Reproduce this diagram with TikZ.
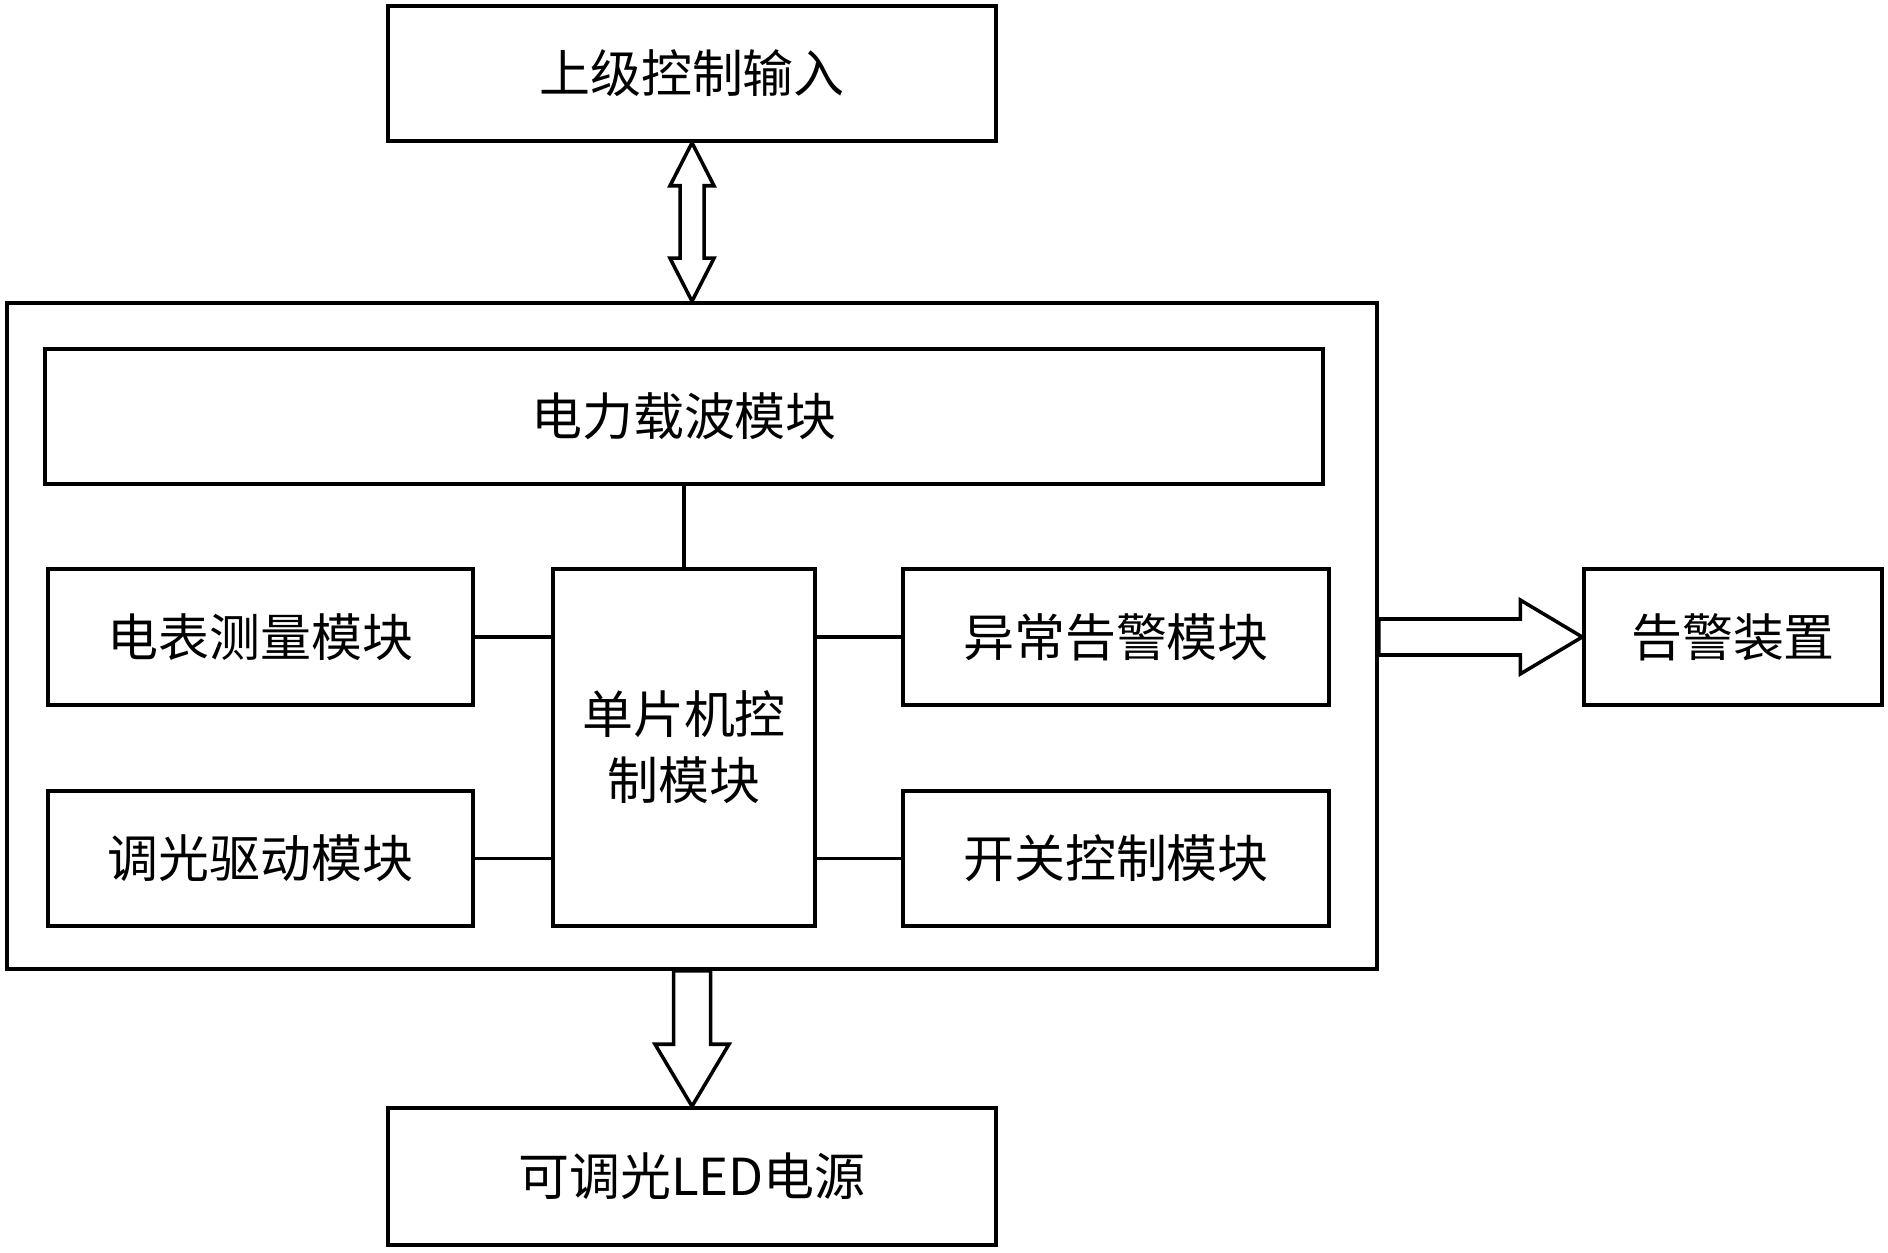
\documentclass[tikz,border=0pt]{standalone}
\usepackage{fontspec}
\setmainfont{Noto Sans CJK SC}
\usetikzlibrary{calc}

\tikzset{
  box/.style={draw,line width=1pt,inner sep=0pt,minimum height=1.35cm,
    font=\fontsize{14.5pt}{18.8pt}\selectfont,align=center},
  blockarrow/.style={draw,line width=1pt,fill=white,line join=miter}
}

\begin{document}
\begin{tikzpicture}
  \useasboundingbox (0,0) rectangle (18.88,12.52);
  % outer boxes
  \node[box,minimum width=6.08cm] (upper) at (6.92,11.785) {上级控制输入};
  \node[box,minimum width=13.70cm,minimum height=6.66cm] (board) at (6.92,6.16) {};
  \node[box,minimum width=6.08cm,minimum height=1.37cm] (led) at (6.92,0.755) {可调光LED电源};
  \node[box,minimum width=2.98cm,minimum height=1.36cm] (alarmdev) at (17.33,6.15) {告警装置};
  % modules on the board
  \node[box,minimum width=12.78cm] (plc) at (6.84,8.355) {电力载波模块};
  \node[box,minimum width=2.62cm,minimum height=3.57cm] (mcu) at (6.84,5.045) {单片机控\\制模块};
  \node[box,minimum width=4.25cm,minimum height=1.36cm] (meter) at (2.605,6.15) {电表测量模块};
  \node[box,minimum width=4.25cm] (dimmer) at (2.605,3.935) {调光驱动模块};
  \node[box,minimum width=4.26cm,minimum height=1.36cm] (alarm) at (11.16,6.15) {异常告警模块};
  \node[box,minimum width=4.26cm] (switch) at (11.16,3.935) {开关控制模块};

  \draw[line width=1pt] (plc.south -| mcu.north) -- (mcu.north);
  \draw[line width=1pt] (meter.east) -- (meter.east -| mcu.west);
  \draw[line width=1pt] (dimmer.east) -- (dimmer.east -| mcu.west);
  \draw[line width=1pt] (alarm.west) -- (alarm.west -| mcu.east);
  \draw[line width=1pt] (switch.west) -- (switch.west -| mcu.east);

  % double arrow upper <-> board
  \coordinate (ua) at (upper.south);
  \coordinate (ub) at (upper.south |- board.north);
  \draw[blockarrow] (ua) -- ($(ua)+(0.22,-0.43)$) -- ($(ua)+(0.12,-0.43)$)
    -- ($(ub)+(0.12,0.43)$) -- ($(ub)+(0.22,0.43)$) -- (ub)
    -- ($(ub)+(-0.22,0.43)$) -- ($(ub)+(-0.12,0.43)$)
    -- ($(ua)+(-0.12,-0.43)$) -- ($(ua)+(-0.22,-0.43)$) -- cycle;

  % arrow board -> alarm device
  \coordinate (ra) at (board.east |- alarmdev.west);
  \coordinate (rb) at (alarmdev.west);
  \draw[blockarrow] ($(ra)+(0,0.18)$) -- ($(rb)+(-0.62,0.18)$) -- ($(rb)+(-0.62,0.37)$)
    -- (rb) -- ($(rb)+(-0.62,-0.37)$) -- ($(rb)+(-0.62,-0.18)$)
    -- ($(ra)+(0,-0.18)$) -- cycle;

  % arrow board -> led supply
  \coordinate (da) at (led.north |- board.south);
  \coordinate (db) at (led.north);
  \draw[blockarrow] ($(da)+(-0.185,0)$) -- ($(db)+(-0.185,0.62)$) -- ($(db)+(-0.37,0.62)$)
    -- (db) -- ($(db)+(0.37,0.62)$) -- ($(db)+(0.185,0.62)$)
    -- ($(da)+(0.185,0)$) -- cycle;
\end{tikzpicture}
\end{document}
